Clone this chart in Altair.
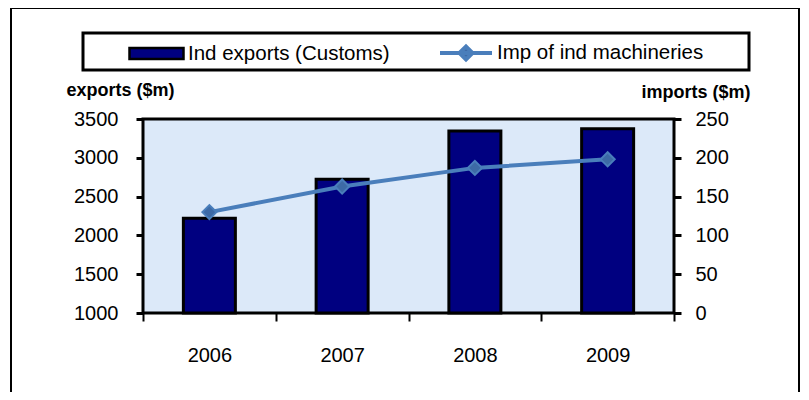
import altair as alt
import pandas as pd

# ---- data ----
years = ["2006", "2007", "2008", "2009"]
exports = [2220, 2723, 3345, 3375]          # Ind exports (Customs), $m (left axis)
imports = [130, 163, 187, 198]              # Imp of ind machineries, $m (right axis)
export_label = "Ind exports (Customs)"
import_label = "Imp of ind machineries"
exp_ticks = [1000, 1500, 2000, 2500, 3000, 3500]
imp_ticks = [0, 50, 100, 150, 200, 250]

df = pd.DataFrame({
    "year": years,
    "exports": exports,
    "imports": imports,
    "s1": [export_label] * len(years),
    "s2": [import_label] * len(years),
})
one = pd.DataFrame({"k": [0]})

FONT = "Liberation Sans"
W, H = 531, 194
NAVY = "#000080"
BLUE = "#4a7ebb"

x_enc = alt.X(
    "year:N", title=None,
    scale=alt.Scale(paddingInner=0, paddingOuter=0),
    axis=alt.Axis(labelAngle=0, tickBand="extent", tickSize=8, tickWidth=2,
                  tickColor="black", domain=False, labelFontSize=20,
                  labelPadding=24, labelFont=FONT, labelColor="black"),
)

# decorative outer frame and legend box
frame = alt.Chart(one).mark_rect(fill="white", fillOpacity=0, stroke="black", strokeWidth=2).encode(
    x=alt.value(-132), x2=alt.value(656), y=alt.value(-111), y2=alt.value(290)
)
legbox = alt.Chart(one).mark_rect(fill="white", stroke="black", strokeWidth=3).encode(
    x=alt.value(-60), x2=alt.value(606), y=alt.value(-86), y2=alt.value(-49)
)

bars = alt.Chart(df).mark_bar(size=52, stroke="black", strokeWidth=3).encode(
    x=x_enc,
    y=alt.Y("exports:Q",
            scale=alt.Scale(domain=[1000, 3500], zero=False, nice=False),
            axis=alt.Axis(orient="left", values=exp_ticks, format="d", title="exports ($m)",
                          titleAngle=0, titleAlign="left", titleBaseline="middle",
                          titleX=-77, titleY=-29, titleFontSize=18, titleFontWeight="bold",
                          titleFont=FONT, titleColor="black",
                          tickSize=7, tickWidth=3, tickColor="black", domain=False,
                          labelPadding=18, labelFontSize=20, labelFont=FONT,
                          labelColor="black", grid=False)),
    y2=alt.datum(1000),
    fill=alt.Fill("s1:N", scale=alt.Scale(range=[NAVY]),
                  legend=alt.Legend(title=None, orient="none", legendX=-15, legendY=-94,
                                    symbolType="M-1,-0.2L1,-0.2L1,0.2L-1,0.2Z",
                                    symbolSize=2916, symbolStrokeColor="black",
                                    symbolStrokeWidth=2.5, labelFontSize=20.5,
                                    labelFont=FONT, labelColor="black", labelLimit=0,
                                    labelOffset=3, padding=0)),
)

line = alt.Chart(df).mark_line(
    strokeWidth=4,
    point=alt.OverlayMarkDef(shape="diamond", size=200, filled=True,
                             fill="#3d6aa6", strokeWidth=2),
).encode(
    x=x_enc,
    y=alt.Y("imports:Q",
            scale=alt.Scale(domain=[0, 250], nice=False),
            axis=alt.Axis(orient="right", values=imp_ticks, format="d", title="imports ($m)",
                          titleAngle=0, titleAlign="right", titleBaseline="middle",
                          titleX=76, titleY=-27, titleFontSize=18, titleFontWeight="bold",
                          titleFont=FONT, titleColor="black",
                          tickSize=7, tickWidth=3, tickColor="black", domain=False,
                          labelPadding=14, labelFontSize=20, labelFont=FONT,
                          labelColor="black", grid=False)),
    stroke=alt.Stroke("s2:N", scale=alt.Scale(range=[BLUE]),
                      legend=alt.Legend(title=None, orient="none", legendX=295, legendY=-94,
                                        symbolType="M-1,0L1,0M-0.25,0L0,-0.25L0.25,0L0,0.25Z",
                                        symbolSize=2704, symbolFillColor="#3d6aa6",
                                        symbolStrokeWidth=4, labelFontSize=20.5,
                                        labelFont=FONT, labelColor="black", labelLimit=0,
                                        labelOffset=3, padding=0)),
)

chart = alt.layer(frame, legbox, bars, line).resolve_scale(
    y="independent", fill="independent", stroke="independent"
).properties(
    width=W, height=H,
    autosize=alt.AutoSizeParams(type="none"),
    padding={"left": 135, "top": 111, "right": 127, "bottom": 79},
    background="white",
).configure_view(
    fill="#dce9f9", stroke="black", strokeWidth=3
)

chart.save("out.html", embed_options={"renderer": "svg", "actions": False})
